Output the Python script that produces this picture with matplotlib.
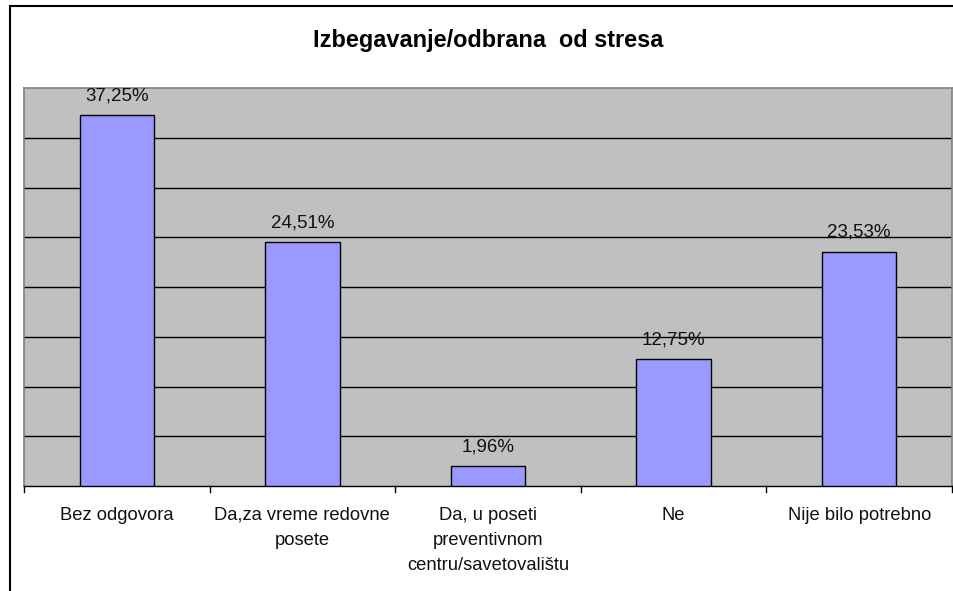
import matplotlib
matplotlib.use("Agg")
import matplotlib.pyplot as plt
from matplotlib.lines import Line2D

plt.rcParams['font.family'] = ['Liberation Sans', 'DejaVu Sans']

title = "Izbegavanje/odbrana  od stresa"
categories = [
    "Bez odgovora",
    "Da,za vreme redovne\nposete",
    "Da, u poseti\npreventivnom\ncentru/savetovalištu",
    "Ne",
    "Nije bilo potrebno",
]
values = [37.25, 24.51, 1.96, 12.75, 23.53]
value_labels = ["37,25%", "24,51%", "1,96%", "12,75%", "23,53%"]

W, H = 954, 591
fig = plt.figure(figsize=(W / 100, H / 100), dpi=100)
fig.patch.set_facecolor("white")

# plot area in pixel coordinates
left, right, top, bottom = 24, 952, 88, 486
ax = fig.add_axes([left / W, (H - bottom) / H, (right - left) / W, (bottom - top) / H])
ax.set_facecolor("#C0C0C0")

x = list(range(len(values)))
ax.bar(x, values, width=0.4, color="#9999FF", edgecolor="black", linewidth=1.0, zorder=3)

ax.set_xlim(-0.5, len(values) - 0.5)
ax.set_ylim(0, 40)

# horizontal gridlines every 5 %
for yv in range(5, 40, 5):
    ax.axhline(yv, color="black", linewidth=1.0, zorder=1)

for xi, v, lab in zip(x, values, value_labels):
    ax.annotate(lab, (xi, v), xytext=(0, 8), textcoords="offset points",
                ha="center", va="bottom", fontsize=13.5, color="#111111")

ax.set_yticks([])
ax.set_xticks(x)
ax.set_xticklabels(categories, fontsize=13.2, linespacing=1.62, color="#111111")
ax.tick_params(axis="x", length=0, pad=15)

# category separator ticks below the axis
for b in [i - 0.5 for i in range(len(values) + 1)]:
    ax.plot([b, b], [0, -0.6], color="black", linewidth=1.0, clip_on=False, zorder=4)

for side in ["left", "right", "top"]:
    ax.spines[side].set_color("#808080")
    ax.spines[side].set_linewidth(1.2)
ax.spines["bottom"].set_color("black")
ax.spines["bottom"].set_linewidth(1.0)

fig.text(488 / W, (H - 41) / H, title, ha="center", va="center",
         fontsize=16.9, fontweight="bold", color="black")

# outer chart frame (left and top edges)
fig.add_artist(Line2D([10 / W, 10 / W], [0, (H - 6) / H], color="black", linewidth=1.5,
                      transform=fig.transFigure))
fig.add_artist(Line2D([10 / W, 1.0], [(H - 6) / H, (H - 6) / H], color="black", linewidth=1.5,
                      transform=fig.transFigure))

fig.savefig("out.png", dpi=100)
